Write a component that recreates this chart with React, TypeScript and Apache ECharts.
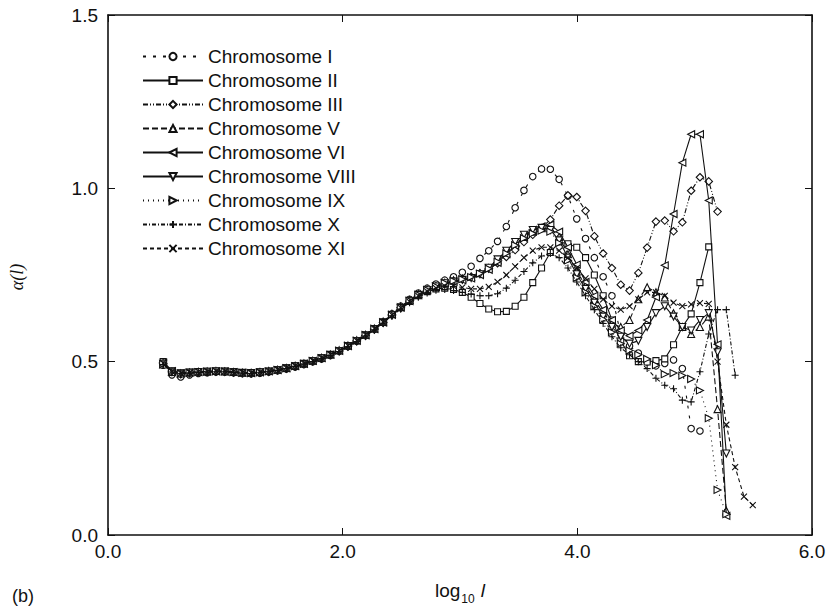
import React, { useEffect, useRef } from "react";
import * as echarts from "echarts";

// log10 l grid shared by all series
const logL = [
  0.47, 0.545, 0.62, 0.695, 0.77, 0.845, 0.92, 0.995, 1.07, 1.145, 1.22, 1.295, 1.37, 1.445, 1.52, 1.595,
  1.67, 1.745, 1.82, 1.895, 1.97, 2.045, 2.12, 2.195, 2.27, 2.345, 2.42, 2.495, 2.57, 2.645, 2.72, 2.795,
  2.87, 2.945, 3.02, 3.095, 3.17, 3.245, 3.32, 3.395, 3.47, 3.545, 3.62, 3.695, 3.77, 3.845, 3.92, 3.995,
  4.07, 4.145, 4.22, 4.295, 4.37, 4.445, 4.52, 4.595, 4.67, 4.745, 4.82, 4.895, 4.97, 5.045, 5.12, 5.195,
  5.27, 5.345, 5.42, 5.495,
];

const chrI = [
  0.490, 0.462, 0.456, 0.462, 0.466, 0.468, 0.470, 0.470, 0.468, 0.466, 0.465, 0.467, 0.470, 0.474, 0.479, 0.485,
  0.492, 0.500, 0.508, 0.518, 0.530, 0.544, 0.559, 0.576, 0.595, 0.615, 0.638, 0.660, 0.680, 0.698, 0.712, 0.724,
  0.735, 0.745, 0.758, 0.775, 0.798, 0.820, 0.847, 0.890, 0.944, 0.994, 1.034, 1.056, 1.055, 1.026, 0.978, 0.912,
  0.855, 0.800, 0.745, 0.690, 0.580, 0.545, 0.525, 0.500, 0.488, 0.495, 0.505, 0.480, 0.307, 0.300,
];
const chrII = [
  0.500, 0.474, 0.468, 0.470, 0.471, 0.472, 0.473, 0.473, 0.471, 0.469, 0.468, 0.470, 0.473, 0.477, 0.482, 0.488,
  0.495, 0.503, 0.511, 0.521, 0.532, 0.546, 0.561, 0.577, 0.595, 0.614, 0.636, 0.656, 0.674, 0.690, 0.702, 0.710,
  0.712, 0.708, 0.700, 0.686, 0.668, 0.652, 0.644, 0.645, 0.660, 0.686, 0.728, 0.770, 0.815, 0.845, 0.840, 0.830,
  0.800, 0.750, 0.690, 0.620, 0.560, 0.517, 0.500, 0.499, 0.503, 0.508, 0.549, 0.600, 0.638, 0.728, 0.831,
];
const chrIII = [
  0.495, 0.470, 0.464, 0.467, 0.469, 0.470, 0.471, 0.471, 0.469, 0.467, 0.466, 0.468, 0.471, 0.475, 0.480, 0.486,
  0.493, 0.501, 0.509, 0.519, 0.530, 0.544, 0.559, 0.575, 0.593, 0.612, 0.634, 0.655, 0.674, 0.691, 0.705, 0.716,
  0.725, 0.732, 0.738, 0.745, 0.755, 0.768, 0.784, 0.802, 0.822, 0.845, 0.866, 0.885, 0.910, 0.950, 0.980, 0.975,
  0.935, 0.862, 0.812, 0.770, 0.722, 0.705, 0.756, 0.829, 0.904, 0.907, 0.876, 0.902, 0.993, 1.032, 1.020, 0.933,
];
const chrV = [
  0.492, 0.470, 0.466, 0.469, 0.471, 0.472, 0.473, 0.472, 0.470, 0.468, 0.468, 0.470, 0.473, 0.477, 0.482, 0.488,
  0.495, 0.503, 0.511, 0.521, 0.533, 0.547, 0.562, 0.578, 0.596, 0.616, 0.638, 0.659, 0.678, 0.695, 0.708, 0.718,
  0.728, 0.735, 0.740, 0.745, 0.755, 0.770, 0.790, 0.815, 0.840, 0.860, 0.875, 0.885, 0.885, 0.860, 0.810, 0.760,
  0.720, 0.680, 0.640, 0.610, 0.600, 0.620, 0.680, 0.715, 0.700, 0.685, 0.640, 0.600, 0.580, 0.600, 0.630, 0.363,
  0.070,
];
const chrVI = [
  0.497, 0.473, 0.467, 0.469, 0.470, 0.471, 0.472, 0.472, 0.470, 0.468, 0.467, 0.469, 0.472, 0.476, 0.481, 0.487,
  0.494, 0.502, 0.510, 0.520, 0.531, 0.545, 0.560, 0.576, 0.594, 0.613, 0.635, 0.656, 0.675, 0.692, 0.706, 0.716,
  0.725, 0.730, 0.735, 0.740, 0.750, 0.765, 0.785, 0.810, 0.835, 0.860, 0.880, 0.890, 0.895, 0.875, 0.830, 0.780,
  0.730, 0.690, 0.650, 0.620, 0.590, 0.575, 0.590, 0.620, 0.686, 0.778, 0.926, 1.074, 1.156, 1.156, 0.965, 0.550,
  0.055,
];
const chrVIII = [
  0.494, 0.471, 0.465, 0.468, 0.470, 0.471, 0.472, 0.471, 0.469, 0.467, 0.467, 0.469, 0.471, 0.475, 0.480, 0.486,
  0.493, 0.501, 0.509, 0.519, 0.530, 0.544, 0.559, 0.575, 0.593, 0.612, 0.634, 0.655, 0.674, 0.692, 0.706, 0.717,
  0.726, 0.731, 0.736, 0.741, 0.752, 0.771, 0.795, 0.820, 0.845, 0.866, 0.880, 0.886, 0.880, 0.850, 0.800, 0.752,
  0.710, 0.670, 0.630, 0.600, 0.572, 0.552, 0.560, 0.600, 0.640, 0.660, 0.630, 0.600, 0.590, 0.620, 0.640, 0.527,
  0.235,
];
const chrIX = [
  0.493, 0.471, 0.466, 0.468, 0.470, 0.471, 0.472, 0.472, 0.470, 0.468, 0.467, 0.469, 0.472, 0.476, 0.481, 0.487,
  0.494, 0.502, 0.510, 0.520, 0.532, 0.546, 0.561, 0.577, 0.595, 0.614, 0.636, 0.657, 0.676, 0.693, 0.707, 0.717,
  0.727, 0.733, 0.738, 0.744, 0.754, 0.768, 0.788, 0.812, 0.836, 0.856, 0.870, 0.878, 0.875, 0.842, 0.792, 0.742,
  0.700, 0.660, 0.622, 0.585, 0.552, 0.532, 0.520, 0.508, 0.490, 0.464, 0.467, 0.460, 0.450, 0.417, 0.337, 0.130,
  0.060,
];
const chrX = [
  0.492, 0.470, 0.465, 0.467, 0.469, 0.470, 0.471, 0.471, 0.469, 0.467, 0.466, 0.468, 0.471, 0.475, 0.480, 0.486,
  0.493, 0.500, 0.508, 0.518, 0.529, 0.543, 0.558, 0.574, 0.592, 0.611, 0.632, 0.652, 0.670, 0.686, 0.698, 0.706,
  0.708, 0.705, 0.700, 0.695, 0.690, 0.690, 0.696, 0.712, 0.735, 0.760, 0.785, 0.805, 0.812, 0.800, 0.770, 0.730,
  0.690, 0.650, 0.610, 0.572, 0.540, 0.520, 0.500, 0.480, 0.452, 0.432, 0.422, 0.389, 0.384, 0.471, 0.580, 0.650,
  0.650, 0.461,
];
const chrXI = [
  0.496, 0.472, 0.467, 0.469, 0.471, 0.472, 0.473, 0.473, 0.471, 0.469, 0.468, 0.470, 0.473, 0.477, 0.482, 0.488,
  0.495, 0.503, 0.511, 0.521, 0.532, 0.546, 0.561, 0.577, 0.595, 0.614, 0.635, 0.655, 0.673, 0.690, 0.703, 0.712,
  0.718, 0.718, 0.714, 0.710, 0.710, 0.716, 0.730, 0.750, 0.775, 0.800, 0.820, 0.830, 0.830, 0.820, 0.800, 0.770,
  0.740, 0.710, 0.680, 0.660, 0.650, 0.660, 0.680, 0.700, 0.700, 0.690, 0.670, 0.660, 0.665, 0.669, 0.667, 0.500,
  0.318, 0.196, 0.111, 0.086,
];

const seriesNames = [
  "Chromosome I", "Chromosome II", "Chromosome III", "Chromosome V", "Chromosome VI",
  "Chromosome VIII", "Chromosome IX", "Chromosome X", "Chromosome XI",
];
const seriesValues = [chrI, chrII, chrIII, chrV, chrVI, chrVIII, chrIX, chrX, chrXI];

const xTicks = ["0.0", "2.0", "4.0", "6.0"];
const yTicks = ["0.0", "0.5", "1.0", "1.5"];

const INK = "#111";
const FONT = "Liberation Sans, Arial, Helvetica, sans-serif";

const looks: { symbol: string; size: number; dash: any }[] = [
  { symbol: "circle", size: 6.5, dash: [3, 7] },
  { symbol: "rect", size: 6, dash: "solid" },
  { symbol: "diamond", size: 7.5, dash: [5, 2, 1, 2, 1, 2] },
  { symbol: "triangle", size: 7, dash: [6, 3] },
  { symbol: "path://M0,5L10,0L10,10Z", size: 7, dash: "solid" },
  { symbol: "path://M0,0L10,0L5,10Z", size: 7, dash: "solid" },
  { symbol: "path://M10,5L0,0L0,10Z", size: 7, dash: [1, 4] },
  { symbol: "path://M5,0L5,10M0,5L10,5", size: 7, dash: [4, 2, 1, 2] },
  { symbol: "path://M0,0L10,10M10,0L0,10", size: 6, dash: [4, 3] },
];

export default function App() {
  const ref = useRef<HTMLDivElement>(null);
  useEffect(() => {
    if (!ref.current) return;
    const chart = echarts.init(ref.current, undefined, { renderer: "svg" });
    const series = seriesNames.map((name, k) => ({
      type: "line",
      name,
      xAxisIndex: 0,
      yAxisIndex: 0,
      data: seriesValues[k].map((v, i) => [logL[i], v]),
      symbol: looks[k].symbol,
      symbolSize: looks[k].size,
      showSymbol: true,
      showAllSymbol: true,
      lineStyle: { color: INK, width: 1.1, type: looks[k].dash },
      itemStyle: { color: "#fff", borderColor: INK, borderWidth: 1.1 },
      emphasis: { disabled: true },
      z: 2 + k,
    }));
    const axisCommonX = {
      type: "value",
      min: 0,
      max: 6,
      interval: 2,
      splitLine: { show: false },
      axisLine: { show: true, onZero: false, lineStyle: { color: INK, width: 1.6 } },
      axisTick: { show: true, inside: true, length: 7, lineStyle: { color: INK, width: 1 } },
    };
    const axisCommonY = {
      type: "value",
      min: 0,
      max: 1.5,
      interval: 0.5,
      splitLine: { show: false },
      axisLine: { show: true, onZero: false, lineStyle: { color: INK, width: 1.6 } },
      axisTick: { show: true, inside: true, length: 7, lineStyle: { color: INK, width: 1 } },
    };
    chart.setOption({
      animation: false,
      backgroundColor: "#fff",
      grid: { left: 108, right: 17, top: 15, bottom: 64, containLabel: false },
      xAxis: [
        {
          ...axisCommonX,
          position: "bottom",
          axisLabel: {
            show: true,
            margin: 7,
            color: INK,
            fontSize: 19,
            fontFamily: FONT,
            formatter: (v: number) => xTicks[Math.round(v / 2)] ?? "",
          },
          name: "{a|log}{b|10}{c| l}",
          nameLocation: "middle",
          nameGap: 43,
          nameTextStyle: {
            color: INK,
            fontFamily: FONT,
            rich: {
              a: { fontSize: 19, fontFamily: FONT, color: INK, lineHeight: 22, verticalAlign: "bottom" },
              b: { fontSize: 12, fontFamily: FONT, color: INK, lineHeight: 22, verticalAlign: "bottom", padding: [0, 1, -5, 1] },
              c: { fontSize: 19, fontFamily: FONT, color: INK, fontStyle: "italic", lineHeight: 22, verticalAlign: "bottom" },
            },
          },
        },
        {
          ...axisCommonX,
          position: "top",
          axisLabel: { show: false },
        },
      ],
      yAxis: [
        {
          ...axisCommonY,
          position: "left",
          axisLabel: {
            show: true,
            margin: 10,
            color: INK,
            fontSize: 19,
            fontFamily: FONT,
            formatter: (v: number) => yTicks[Math.round(v / 0.5)] ?? "",
          },
        },
        {
          ...axisCommonY,
          position: "right",
          axisLabel: { show: false },
        },
      ],
      legend: {
        show: true,
        orient: "vertical",
        left: 137,
        top: 42,
        itemWidth: 60,
        itemHeight: 9,
        itemGap: 5,
        selectedMode: false,
        data: seriesNames,
        textStyle: { color: INK, fontSize: 19, fontFamily: FONT },
      },
      graphic: [
        {
          type: "text",
          left: 12,
          top: 587,
          style: { text: "(b)", fill: INK, font: `18px ${FONT}` },
        },
        {
          type: "text",
          x: 17,
          y: 277,
          rotation: Math.PI / 2,
          style: {
            text: "α(l)",
            fill: INK,
            font: `italic 18px 'Liberation Serif', 'DejaVu Serif', serif`,
            align: "center",
            verticalAlign: "middle",
          },
        },
      ],
      series,
    });
    return () => chart.dispose();
  }, []);
  return <div ref={ref} style={{ width: 829, height: 610, position: "absolute", left: 0, top: 0 }} />;
}
